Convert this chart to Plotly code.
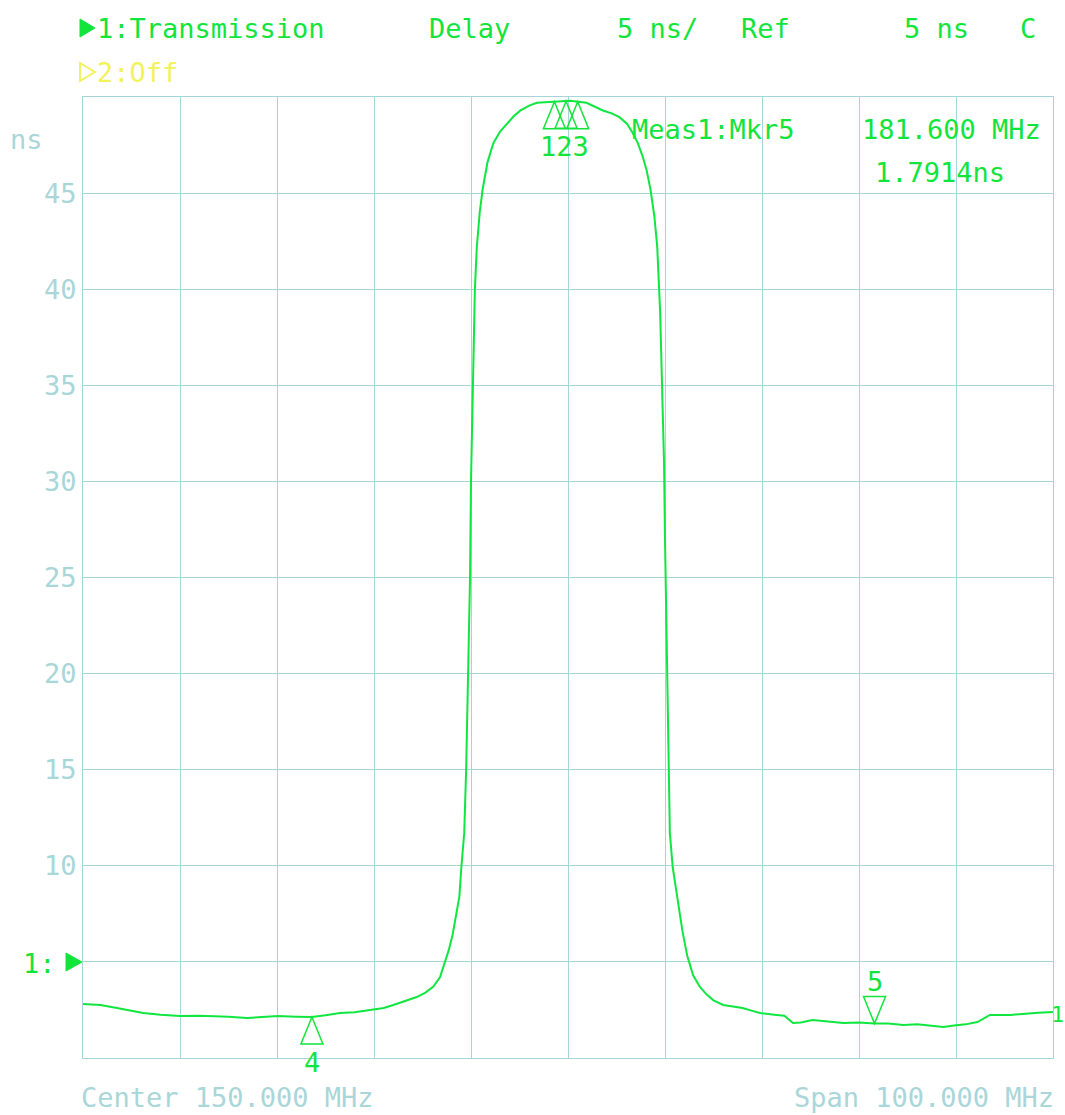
import plotly.graph_objects as go

# ---- data ----
freq_mhz = [100, 101.8, 103.5, 105, 106.2, 108, 110, 112, 113.4, 115, 116.9, 118, 120.1, 122, 123.6,
            125, 126.5, 128, 129.9, 131, 132, 133.2, 134.4, 135.3, 136.1, 136.8, 137.3, 137.7, 138.1,
            138.5, 138.8, 139.0, 139.2, 139.3, 139.5, 139.7, 139.9, 140.0, 140.1, 140.2, 140.4, 140.6,
            140.9, 141.2, 141.7, 142.3, 143.0, 143.7, 144.4, 145.1, 146.0, 146.8, 148.5, 150.2, 151.9,
            152.8, 153.6, 154.5, 155.3, 156.1, 156.7, 157.2, 157.7, 158.1, 158.5, 158.9, 159.2, 159.5,
            159.7, 159.9, 160.0, 160.1, 160.2, 160.3, 160.4, 160.5, 160.8, 161.3, 161.8, 162.3, 162.9,
            163.6, 164.3, 165.0, 166.0, 167.0, 168.0, 169.0, 169.8, 171.5, 172.3, 173.2, 174.0, 175.2,
            176.5, 178.4, 180.0, 181.6, 183.0, 184.6, 186.0, 188.7, 190.0, 191.0, 192.2, 193.5, 195.6,
            197.0, 198.5, 200.0]
delay_ns = [2.81, 2.76, 2.60, 2.45, 2.34, 2.25, 2.19, 2.20, 2.19, 2.15, 2.08, 2.12, 2.19, 2.15, 2.13,
            2.22, 2.34, 2.38, 2.50, 2.60, 2.76, 2.95, 3.17, 3.40, 3.70, 4.20, 5.00, 5.60, 6.40,
            7.50, 8.40, 9.90, 10.9, 11.7, 15.0, 20.0, 25.0, 30.0, 33.0, 36.0, 40.0, 42.2,
            44.0, 45.2, 46.6, 47.6, 48.2, 48.6, 49.0, 49.3, 49.55, 49.7, 49.75, 49.8, 49.7,
            49.5, 49.3, 49.15, 48.95, 48.6, 48.1, 47.6, 46.9, 46.2, 45.2, 43.8, 42.2, 38.8,
            35.3, 31.0, 27.0, 24.0, 21.0, 18.6, 15.0, 11.7, 9.9, 8.2, 6.6, 5.3, 4.3,
            3.7, 3.3, 3.0, 2.76, 2.68, 2.60, 2.45, 2.34, 2.24, 2.20, 1.82, 1.85, 1.98,
            1.90, 1.82, 1.85, 1.79, 1.80, 1.72, 1.75, 1.61, 1.70, 1.75, 1.87, 2.24, 2.24,
            2.30, 2.35, 2.39]

marker_names = ["1", "2", "3", "4", "5"]
marker_freq = [148.6, 149.8, 151.0, 123.6, 181.6]
marker_delay = [49.75, 49.78, 49.75, 2.13, 1.79]
marker_dir = ["up", "up", "up", "up", "down"]

x_ticks = [100, 110, 120, 130, 140, 150, 160, 170, 180, 190, 200]
y_ticks = [0, 5, 10, 15, 20, 25, 30, 35, 40, 45, 50]
y_ticktext = ["", "", "10", "15", "20", "25", "30", "35", "40", "45", ""]

# ---- style ----
FONT = "DejaVu Sans Mono"
GREEN = "#12e43c"
TRACE = "#10e640"
YELLOW = "#f2f25a"
PALE = "#a9d6d8"
GRID = "#a6d5d9"
FS = 27

W, H = 1065, 1115
L, R, T, B = 83, 1053, 97, 1058


def px(xp):
    return (xp - L) / (R - L)


def py(yp):
    return (B - yp) / (B - T)


fig = go.Figure()
fig.add_trace(go.Scatter(x=freq_mhz, y=delay_ns, mode="lines",
                         line=dict(color=TRACE, width=2), hoverinfo="skip", showlegend=False))

annotations = []


def ann(text, xp, yp, xanchor="left", color=GREEN, size=FS):
    annotations.append(dict(text=text, x=px(xp), y=py(yp), xref="paper", yref="paper",
                            xanchor=xanchor, yanchor="middle", showarrow=False,
                            font=dict(family=FONT, size=size, color=color)))


ann("1:Transmission", 95, 28)
ann("Delay", 427, 28)
ann("5 ns/", 615, 28)
ann("Ref", 739, 28)
ann("5 ns", 902, 28)
ann("C", 1018, 28)
ann("2:Off", 95, 72, color=YELLOW)
ann("Meas1:Mkr5", 630, 130)
ann("181.600 MHz", 1043, 130, xanchor="right")
ann("1.7914ns", 1007, 172, xanchor="right")
ann("Center 150.000 MHz", 79, 1097, color=PALE)
ann("Span 100.000 MHz", 1056, 1097, xanchor="right", color=PALE)
ann("ns", 8, 140, color=PALE)
ann("1:", 58, 963, xanchor="right")
ann("1", 1049, 1014, size=22)

shapes = []
# header triangles and reference-level pointer
shapes.append(dict(type="path", xref="paper", yref="paper", xsizemode="pixel", ysizemode="pixel",
                   xanchor=px(80), yanchor=py(28), path="M 0,9 L 15,0 L 0,-9 Z",
                   fillcolor=GREEN, line=dict(color=GREEN, width=1)))
shapes.append(dict(type="path", xref="paper", yref="paper", xsizemode="pixel", ysizemode="pixel",
                   xanchor=px(80), yanchor=py(72), path="M 0,9 L 15,0 L 0,-9 Z",
                   fillcolor="rgba(0,0,0,0)", line=dict(color=YELLOW, width=2)))
shapes.append(dict(type="path", xref="paper", yref="paper", xsizemode="pixel", ysizemode="pixel",
                   xanchor=px(66), yanchor=py(962), path="M 0,9 L 16,0 L 0,-9 Z",
                   fillcolor=GREEN, line=dict(color=GREEN, width=1)))

# marker triangles (apex on the trace)
for name, f, d, direc in zip(marker_names, marker_freq, marker_delay, marker_dir):
    if direc == "up":
        path = "M 0,0 L -11,-27 L 11,-27 Z"
    else:
        path = "M 0,0 L -11,27 L 11,27 Z"
    shapes.append(dict(type="path", xref="x", yref="y", xsizemode="pixel", ysizemode="pixel",
                       xanchor=f, yanchor=d, path=path, layer="above",
                       fillcolor="rgba(0,0,0,0)", line=dict(color=GREEN, width=1.5)))

# marker labels: the closely spaced markers 1-3 share one label block
cluster = [i for i, n in enumerate(marker_names) if n in ("1", "2", "3")]
others = [i for i in range(len(marker_names)) if i not in cluster]
label_groups = [cluster] + [[i] for i in others]
for grp in label_groups:
    text = "".join(marker_names[i] for i in grp)
    f = sum(marker_freq[i] for i in grp) / len(grp)
    d = max(marker_delay[i] for i in grp)
    direc = marker_dir[grp[0]]
    annotations.append(dict(text=text, x=f, y=d, xref="x", yref="y", showarrow=False,
                            xanchor="center", yanchor="middle",
                            yshift=(-45 if direc == "up" else 42), xshift=-2 if len(grp) > 1 else 0,
                            font=dict(family=FONT, size=FS, color=GREEN)))

fig.update_layout(
    width=W, height=H,
    margin=dict(l=L, r=W - R, t=T, b=H - B, pad=0),
    paper_bgcolor="white", plot_bgcolor="white",
    showlegend=False,
    annotations=annotations,
    shapes=shapes,
    xaxis=dict(range=[100, 200], tickvals=x_ticks, ticktext=[""] * len(x_ticks),
               showgrid=True, gridcolor=GRID, gridwidth=1, zeroline=False,
               showline=True, linecolor=GRID, linewidth=1, mirror=True, ticks=""),
    yaxis=dict(range=[0, 50], tickvals=y_ticks, ticktext=y_ticktext,
               showgrid=True, gridcolor=GRID, gridwidth=1, zeroline=False,
               showline=True, linecolor=GRID, linewidth=1, mirror=True, ticks="",
               tickfont=dict(family=FONT, size=FS, color=PALE)),
)

fig.write_html("out.html")
